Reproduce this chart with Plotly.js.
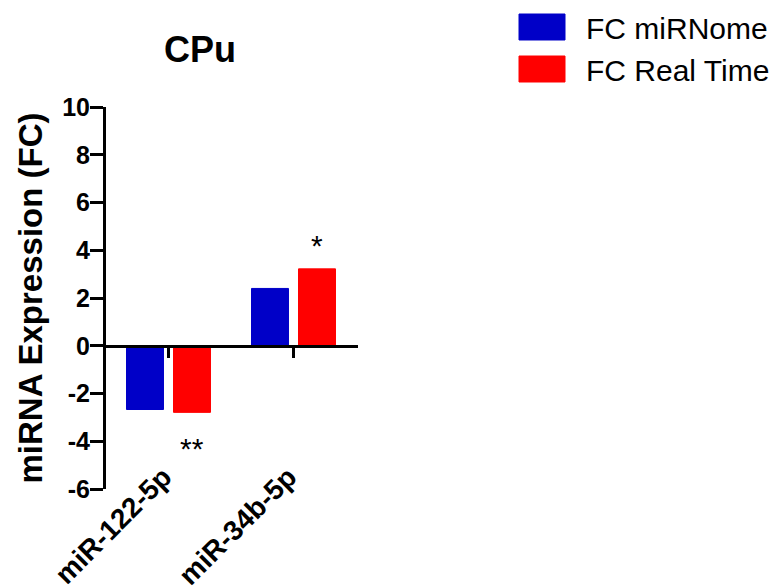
<!DOCTYPE html>
<html>
<head>
<meta charset="utf-8">
<script src="https://cdn.plot.ly/plotly-3.0.1.min.js"></script>
<style>html,body{margin:0;padding:0;background:#fff;}#chart{width:778px;height:587px;}</style>
</head>
<body>
<div id="chart"></div>
<script>
const categories = ['miR-122-5p', 'miR-34b-5p'];
const fcMiRNome = [-2.67, 2.4];
const fcRealTime = [-2.79, 3.22];
const seriesNames = ['FC miRNome', 'FC Real Time'];
const stars = ['**', '*'];
const starY = [-4.3, 4.2];
const yTicks = [-6, -4, -2, 0, 2, 4, 6, 8, 10];
const yTickText = yTicks.map(v => String(v));

const idx = categories.map((c, i) => i);
const F = 'Liberation Sans, Arial, sans-serif';

const traces = [
  {type: 'bar', name: seriesNames[0], x: idx, y: fcMiRNome,
   marker: {color: '#0000C8', line: {color: '#0000C8', width: 1}}},
  {type: 'bar', name: seriesNames[1], x: idx, y: fcRealTime,
   marker: {color: '#FF0000', line: {color: '#FF0000', width: 1}}},
  // invisible helper that activates the zero-line axis
  {type: 'scatter', x: idx, y: idx.map(() => 0), xaxis: 'x2', mode: 'none', showlegend: false, hoverinfo: 'skip'}
];

const annotations = stars.map((s, i) => ({
  x: idx[i], y: starY[i], xref: 'x', yref: 'y', text: s, showarrow: false,
  xshift: 23, font: {family: F, size: 30, color: '#000'}
}));

const layout = {
  width: 778, height: 587,
  margin: {l: 106, r: 420, t: 107, b: 98, autoexpand: false},
  paper_bgcolor: '#fff', plot_bgcolor: '#fff',
  barmode: 'group', bargap: 0.248, bargroupgap: 0.213,
  showlegend: true,
  title: {text: 'CPu', font: {family: F, size: 36, weight: 'bold', color: '#000'},
          xref: 'paper', x: 0.373, xanchor: 'center', yref: 'container', y: 0.915, yanchor: 'middle'},
  xaxis: {type: 'linear', range: [-0.5, 1.516], tickvals: idx, ticktext: categories,
          showline: false, ticks: '', showgrid: false, zeroline: false, tickangle: -45,
          ticklabelstandoff: -35, ticklabelshift: -5,
          tickfont: {family: F, size: 28, weight: 'bold', color: '#000'}},
  xaxis2: {type: 'linear', overlaying: 'x', anchor: 'free', position: 0.375,
           range: [-0.5, 1.516], tickvals: idx, showticklabels: false,
           showline: true, linewidth: 3, linecolor: '#000', ticks: 'outside', ticklen: 10,
           tickwidth: 3, tickcolor: '#000', showgrid: false, zeroline: false},
  yaxis: {range: [-6, 10], tickvals: yTicks, ticktext: yTickText,
          showline: true, linewidth: 3, linecolor: '#000',
          ticks: 'outside', ticklen: 13, tickwidth: 3, tickcolor: '#000',
          showgrid: false, zeroline: false, ticklabelstandoff: -5,
          tickfont: {family: F, size: 25, weight: 'bold', color: '#000'},
          title: {text: 'miRNA Expression (FC)', font: {family: F, size: 33, weight: 'bold', color: '#000'}, standoff: 10}},
  legend: {xref: 'container', yref: 'container', x: 516 / 778, xanchor: 'left', y: 1 - 1 / 587, yanchor: 'top',
           itemwidth: 60, font: {family: F, size: 30, color: '#000'}},
  annotations: annotations
};

Plotly.newPlot('chart', traces, layout, {displayModeBar: false, staticPlot: true}).then(gd => {
  // enlarge legend swatches to match the reference's wide rectangles
  gd.querySelectorAll('.legend g.legendpoints path').forEach(p => {
    p.setAttribute('d', 'M14,13H-32V-13H14Z');
  });
});
</script>
</body>
</html>
